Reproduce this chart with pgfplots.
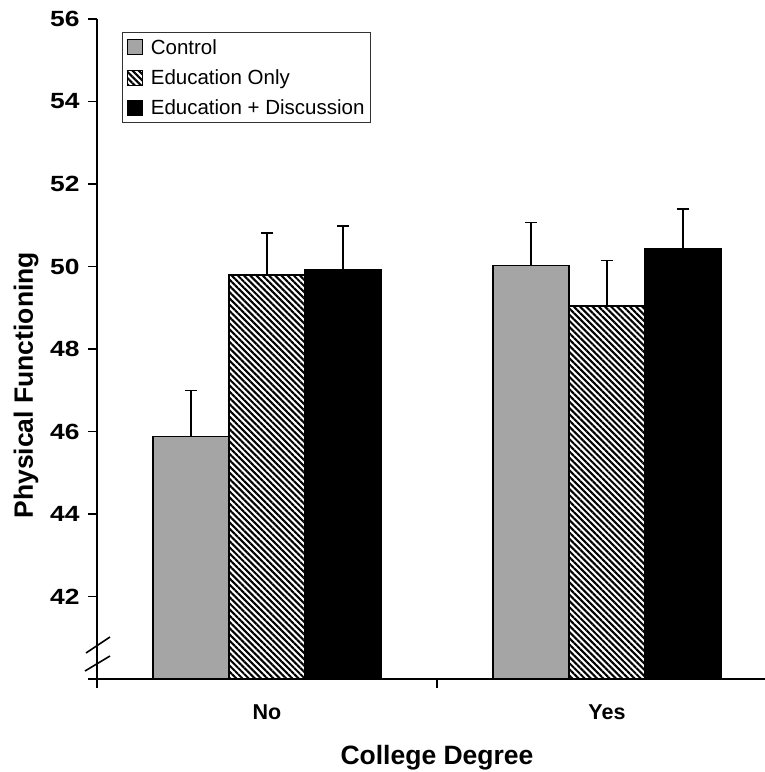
\documentclass[border=0pt]{standalone}
\usepackage{fontspec}
\setmainfont{Liberation Sans}
\newfontfamily\tickfont[FakeStretch=1.2]{Liberation Sans}
\usepackage{pgfplots}
\pgfplotsset{compat=1.18}
\usetikzlibrary{patterns.meta}
\definecolor{ctrlgray}{RGB}{165,165,165}
\begin{document}
\begin{tikzpicture}
\path[use as bounding box] (-97pt,-93pt) rectangle (668pt,679pt);
\begin{axis}[
  at={(0pt,0pt)}, anchor=south west,
  scale only axis, width=668pt, height=660pt,
  xmin=0.5, xmax=2.4647, ymin=40, ymax=56,
  axis x line*=bottom, axis y line*=left,
  axis line style={line width=1.5pt, -},
  tick align=outside, tick pos=left,
  major tick length=9pt,
  every tick/.style={black, line width=1.4pt},
  ytick={42,44,...,56},
  xtick={0.5,1.5}, xticklabels={},
  extra x ticks={1,2}, extra x tick labels={No,Yes},
  extra x tick style={major tick length=0pt, xticklabel style={yshift=-22pt}},
  extra y ticks={40}, extra y tick labels={},
  /pgf/number format/assume math mode=true,
  xticklabel style={font=\fontsize{21.5}{25}\selectfont\bfseries},
  yticklabel style={font=\tickfont\fontsize{22}{25}\selectfont\bfseries, xshift=-5pt},
  xlabel={College Degree}, ylabel={Physical Functioning},
  label style={font=\fontsize{26.5}{30}\selectfont\bfseries},
  xlabel style={at={(axis description cs:0.509,0)}, anchor=center, yshift=-79pt},
  ylabel style={at={(axis description cs:-0.1063,0.445)}, anchor=center, rotate=0},
  ybar, bar width=0.2235,
  legend style={at={(axis description cs:0.0374,0.9803)}, anchor=north west,
    draw=black!80, line width=1.3pt, font=\fontsize{20.5}{24}\selectfont,
    inner xsep=4pt, inner ysep=4.5pt, row sep=10pt,
    /tikz/every even column/.append style={column sep=3pt},
    /tikz/every odd column/.append style={column sep=6pt}},
  legend cell align=left,
  legend image code/.code={\draw[#1, line width=1.2pt] (0pt,-7.5pt) rectangle (15pt,7.5pt);},
  error bars/y dir=plus, error bars/y explicit,
  error bars/error bar style={line width=1.5pt, black},
  error bars/error mark options={rotate=90, mark size=6pt, line width=1.5pt, black},
]
\addplot[draw=black, line width=1.4pt, fill=ctrlgray, bar shift=-0.2235]
  coordinates {(1,45.88) +- (0,1.11) (2,50.03) +- (0,1.04)};
\addplot[draw=black, line width=1.4pt, fill=white,
  pattern={Lines[angle=-45, distance=4.4pt, line width=2.1pt]}, pattern color=black, bar shift=0]
  coordinates {(1,49.79) +- (0,1.02) (2,49.04) +- (0,1.11)};
\addplot[draw=black, line width=1.4pt, fill=black, bar shift=0.2235]
  coordinates {(1,49.93) +- (0,1.05) (2,50.43) +- (0,0.96)};
\legend{Control, Education Only, Education + Discussion}
\end{axis}
\draw[line width=1.6pt] (-11pt,26pt) -- (13pt,42pt);
\draw[line width=1.6pt] (-12pt,8pt) -- (13pt,23pt);
\end{tikzpicture}
\end{document}
